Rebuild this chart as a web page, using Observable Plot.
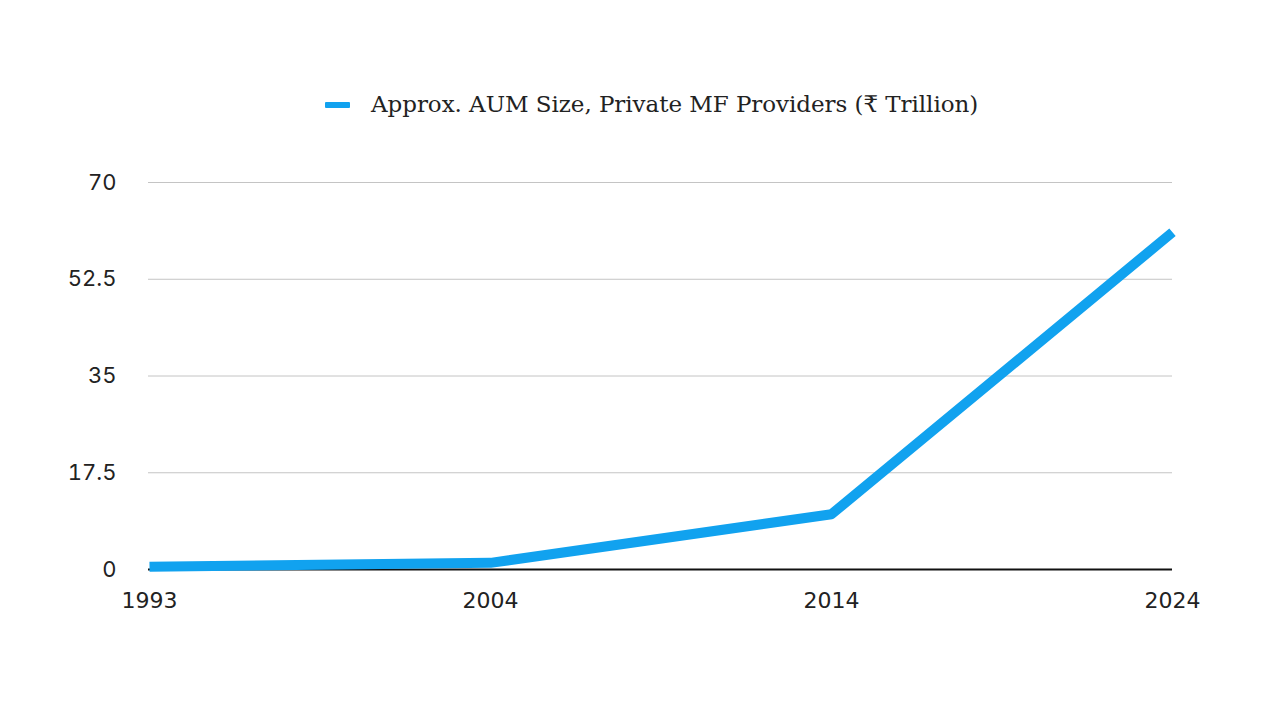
<!DOCTYPE html>
<html>
<head>
<meta charset="utf-8">
<script src="https://cdn.jsdelivr.net/npm/d3@7"></script>
<script src="https://cdn.jsdelivr.net/npm/@observablehq/plot@0.6"></script>
<style>
  html, body { margin: 0; padding: 0; background: #fff; }
  #wrap { width: 1280px; height: 720px; overflow: hidden; }
  #legend { height: 150px; position: relative; }
  #legend .sw { position: absolute; left: 325px; top: 102px; width: 25px; height: 6px; background: #11a2ef; border-radius: 1px; }
  #legend .tx { position: absolute; left: 371px; top: 91px; font-family: "DejaVu Serif", serif; font-size: 23px; color: #222; letter-spacing: -0.05px; white-space: nowrap; }
</style>
</head>
<body>
<div id="wrap">
  <div id="legend"><div class="sw"></div><div class="tx">Approx. AUM Size, Private MF Providers (₹ Trillion)</div></div>
  <div id="chart"></div>
</div>
<script>
const years = ["1993", "2004", "2014", "2024"];
const aum = [0.5, 1.2, 10, 61];
const yTicks = [0, 17.5, 35, 52.5, 70];
const seriesName = "Approx. AUM Size, Private MF Providers (₹ Trillion)";

const data = years.map((y, i) => ({year: y, value: aum[i]}));

const chart = Plot.plot({
  width: 1280,
  height: 570,
  marginTop: 32,
  marginBottom: 151,
  marginLeft: 148,
  marginRight: 108,
  style: {fontFamily: "Inter, sans-serif", fontSize: "22px", color: "#222", background: "#fff"},
  x: {type: "point", domain: years, padding: 0, label: null},
  y: {domain: [0, 70], label: null},
  marks: [
    Plot.gridY(yTicks, {stroke: "#c4c4c4", strokeOpacity: 1, strokeWidth: 1}),
    Plot.axisY(yTicks, {tickSize: 0, tickPadding: 32, fontSize: 22, label: null, tickFormat: d => String(d)}),
    Plot.axisX(years, {tickSize: 0, tickPadding: 23, fontSize: 22, label: null, fontFamily: "DejaVu Sans, sans-serif"}),
    Plot.ruleY([0], {stroke: "#111", strokeWidth: 2}),
    Plot.line(data, {x: "year", y: "value", stroke: "#11a2ef", strokeWidth: 10, strokeLinejoin: "round", strokeLinecap: "butt"})
  ]
});
document.getElementById("chart").appendChild(chart);
</script>
</body>
</html>
